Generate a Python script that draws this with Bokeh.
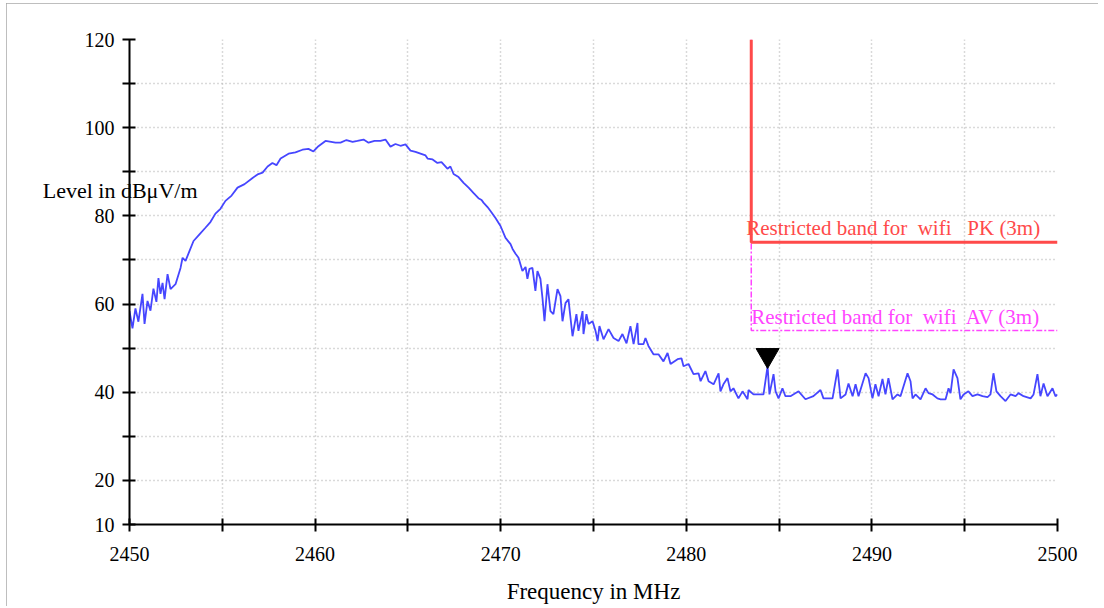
from bokeh.plotting import figure
from bokeh.models import Range1d, FixedTicker, Label
from bokeh.embed import file_html
from bokeh.resources import INLINE

# ---------------- data ----------------
freq_mhz = [
    2450.00, 2450.16, 2450.32, 2450.48, 2450.70, 2450.81, 2450.97, 2451.13, 2451.29, 2451.45,
    2451.56, 2451.67, 2451.78, 2451.89, 2452.05, 2452.21, 2452.48, 2452.75, 2452.86, 2453.02,
    2453.23, 2453.45, 2453.77, 2454.09, 2454.36, 2454.63, 2454.90, 2455.17, 2455.50, 2455.82,
    2456.20, 2456.63, 2456.90, 2457.17, 2457.44, 2457.70, 2457.92, 2458.14, 2458.57, 2458.94,
    2459.32, 2459.64, 2459.91, 2460.18, 2460.56, 2461.10, 2461.37, 2461.69, 2462.02, 2462.28,
    2462.61, 2462.88, 2463.20, 2463.52, 2463.79, 2464.06, 2464.33, 2464.60, 2464.87, 2465.14,
    2465.41, 2465.68, 2465.95, 2466.06, 2466.33, 2466.59, 2466.81, 2467.13, 2467.29, 2467.46,
    2467.73, 2468.00, 2468.27, 2468.53, 2468.80, 2468.97, 2469.07, 2469.29, 2469.45, 2469.72,
    2469.99, 2470.26, 2470.53, 2470.64, 2470.80, 2470.96, 2471.17, 2471.34, 2471.44, 2471.55,
    2471.71, 2471.87, 2471.98, 2472.14, 2472.25, 2472.36, 2472.52, 2472.68, 2472.84, 2473.06,
    2473.22, 2473.33, 2473.49, 2473.65, 2473.87, 2474.08, 2474.19, 2474.41, 2474.46, 2474.62,
    2474.73, 2474.95, 2475.11, 2475.22, 2475.32, 2475.54, 2475.81, 2476.08, 2476.35, 2476.56,
    2476.78, 2476.99, 2477.16, 2477.37, 2477.42, 2477.69, 2477.80, 2477.96, 2478.23, 2478.50,
    2478.77, 2478.99, 2479.15, 2479.53, 2479.74, 2479.85, 2480.12, 2480.39, 2480.66, 2480.77,
    2481.03, 2481.20, 2481.47, 2481.74, 2481.84, 2482.00, 2482.22, 2482.38, 2482.54, 2482.81,
    2483.03, 2483.30, 2483.35, 2483.62, 2484.00, 2484.16, 2484.38, 2484.48, 2484.70, 2484.81,
    2484.97, 2485.18, 2485.34, 2485.61, 2486.05, 2486.42, 2486.85, 2487.23, 2487.39, 2487.88,
    2488.15, 2488.31, 2488.58, 2488.74, 2488.96, 2489.12, 2489.28, 2489.49, 2489.66, 2489.82,
    2490.03, 2490.19, 2490.36, 2490.57, 2490.73, 2490.89, 2491.11, 2491.38, 2491.54, 2491.92,
    2492.08, 2492.19, 2492.35, 2492.62, 2492.89, 2493.05, 2493.27, 2493.53, 2493.70, 2493.97,
    2494.13, 2494.24, 2494.40, 2494.61, 2494.77, 2494.94, 2495.20, 2495.42, 2495.69, 2495.96,
    2496.23, 2496.39, 2496.55, 2496.71, 2496.93, 2497.20, 2497.47, 2497.74, 2497.90, 2498.17,
    2498.55, 2498.71, 2498.92, 2499.08, 2499.25, 2499.46, 2499.73, 2499.89, 2500.00,
]
level_dbuv = [
    58.4, 54.5, 59.0, 56.0, 62.3, 55.5, 60.7, 58.5, 63.5, 60.5,
    65.9, 62.3, 64.8, 61.1, 66.8, 63.4, 64.5, 68.2, 70.5, 69.8,
    72.0, 74.3, 75.8, 77.3, 78.6, 80.5, 81.6, 83.4, 84.6, 86.4,
    87.2, 88.6, 89.4, 89.8, 91.2, 92.0, 91.5, 93.0, 94.1, 94.4,
    95.0, 95.2, 94.6, 95.8, 97.0, 96.6, 96.6, 97.2, 96.8, 97.0,
    97.3, 96.6, 97.0, 97.0, 97.3, 95.7, 96.3, 95.9, 96.2, 94.8,
    94.5, 94.1, 93.7, 93.0, 92.8, 92.0, 92.2, 90.7, 91.2, 89.5,
    88.8, 87.5, 86.4, 85.2, 84.0, 83.6, 83.0, 82.0, 81.1, 79.5,
    77.7, 75.0, 73.6, 72.5, 71.4, 70.5, 67.5, 68.4, 65.7, 68.0,
    68.2, 63.0, 67.5, 65.7, 61.4, 56.1, 64.5, 58.4, 57.7, 63.4,
    61.8, 56.1, 60.2, 61.1, 52.7, 57.7, 53.9, 58.4, 53.2, 57.7,
    55.5, 56.1, 53.9, 51.6, 55.0, 52.0, 54.3, 52.3, 51.6, 53.2,
    51.1, 55.0, 50.9, 55.7, 50.9, 50.9, 52.3, 50.5, 48.6, 48.6,
    47.0, 48.9, 46.4, 47.5, 47.7, 45.9, 46.4, 44.1, 44.3, 42.5,
    44.8, 42.5, 41.8, 44.3, 40.2, 41.8, 43.2, 40.2, 40.9, 38.6,
    40.2, 38.4, 40.5, 39.5, 39.5, 39.5, 45.9, 39.5, 44.1, 40.2,
    38.6, 40.9, 39.1, 39.1, 40.2, 38.4, 39.1, 40.5, 38.6, 38.6,
    45.2, 38.6, 39.5, 42.0, 39.1, 41.8, 39.1, 42.0, 44.3, 43.2,
    38.6, 41.8, 39.1, 43.0, 39.5, 43.2, 38.4, 39.5, 39.1, 44.3,
    42.5, 38.6, 39.5, 38.4, 40.9, 39.8, 39.5, 38.6, 38.4, 38.4,
    40.9, 39.8, 45.2, 43.2, 38.4, 39.5, 40.2, 39.1, 39.5, 39.1,
    38.9, 39.5, 44.3, 40.2, 39.1, 38.0, 39.5, 39.1, 39.8, 39.1,
    38.6, 39.5, 44.1, 39.1, 42.0, 39.1, 40.9, 39.1, 39.5,
]

band_start = 2483.5
band_end = 2500.0
pk_limit = 74.0
av_limit = 54.0
pk_label = "Restricted band for\u00a0 wifi\u00a0\u00a0 PK (3m)"
av_label = "Restricted band for\u00a0 wifi\u00a0 AV (3m)"

marker_freq = [2484.38]
marker_level = [48.4]

x_major = [2450, 2460, 2470, 2480, 2490, 2500]
x_minor = [2455, 2465, 2475, 2485, 2495]
y_major = [10, 20, 40, 60, 80, 100, 120]
y_minor = [30, 50, 70, 90, 110]

y_title = "Level in dBμV/m"
x_title = "Frequency in MHz"

# ---------------- figure ----------------
FONT = "Liberation Serif"
BLUE = "#4646ff"
RED = "#ff4a4a"
MAGENTA = "#ff44ff"
GRID = "#b4b4b4"

p = figure(width=1092, height=603, output_backend="svg", toolbar_location=None,
           x_range=Range1d(2450, 2500), y_range=Range1d(10, 120),
           min_border_left=123, min_border_right=41, min_border_top=36, min_border_bottom=82)
p.outline_line_color = None
p.background_fill_color = "white"
p.border_fill_color = "white"
p.styles = {"outline": "2px solid #a8a8a8", "outline-offset": "-2px",
            "margin-left": "6px", "margin-top": "3px"}

for ax, maj, mnr in ((p.xaxis[0], x_major, x_minor), (p.yaxis[0], y_major, y_minor)):
    ax.ticker = FixedTicker(ticks=maj, minor_ticks=mnr)
    ax.axis_line_width = 2
    ax.axis_line_color = "black"
    ax.major_tick_line_width = 2
    ax.minor_tick_line_width = 2
    ax.major_tick_in = 6
    ax.major_tick_out = 7
    ax.minor_tick_in = 6
    ax.minor_tick_out = 7
    ax.major_label_text_font = FONT
    ax.major_label_text_font_size = "20px"
    ax.major_label_text_color = "black"
    ax.axis_label_text_font = FONT
    ax.axis_label_text_font_style = "normal"
    ax.axis_label_text_color = "black"

p.xaxis.major_label_standoff = 15
p.yaxis.major_label_standoff = 8
p.xaxis.axis_label = x_title
p.xaxis.axis_label_text_font_size = "23px"
p.xaxis.axis_label_standoff = 15

# y title: horizontal, lifted above the axis centre by trailing empty lines
p.yaxis.axis_label = y_title + "\n\n\n\n"
p.yaxis.axis_label_orientation = "horizontal"
p.yaxis.axis_label_text_font_size = "22px"
p.yaxis.axis_label_text_line_height = 1.83
p.yaxis.axis_label_standoff = -116

for g in (p.xgrid[0], p.ygrid[0]):
    g.grid_line_color = GRID
    g.grid_line_dash = "1 3"
    g.grid_line_width = 1.5
    g.minor_grid_line_color = GRID
    g.minor_grid_line_dash = "1 3"
    g.minor_grid_line_width = 1.5

# limit lines
p.line([band_start, band_start, band_end], [120, av_limit, av_limit],
       line_color=MAGENTA, line_width=1.5, line_dash="6 2 2 2")
p.line([band_start, band_start, band_end], [120, pk_limit, pk_limit],
       line_color=RED, line_width=3)

# trace
p.line(freq_mhz, level_dbuv, line_color=BLUE, line_width=1.8)

# marker
p.scatter(marker_freq, marker_level, marker="inverted_triangle", size=23,
          fill_color="black", line_color="black")

# limit labels
p.add_layout(Label(x=band_start, y=pk_limit, text=pk_label, x_offset=-5, y_offset=2,
                   text_font=FONT, text_font_size="21px", text_color=RED,
                   text_align="left", text_baseline="bottom"))
p.add_layout(Label(x=band_start, y=av_limit, text=av_label, x_offset=0, y_offset=2,
                   text_font=FONT, text_font_size="21px", text_color=MAGENTA,
                   text_align="left", text_baseline="bottom"))

open("out.html", "w").write(file_html(p, INLINE))
